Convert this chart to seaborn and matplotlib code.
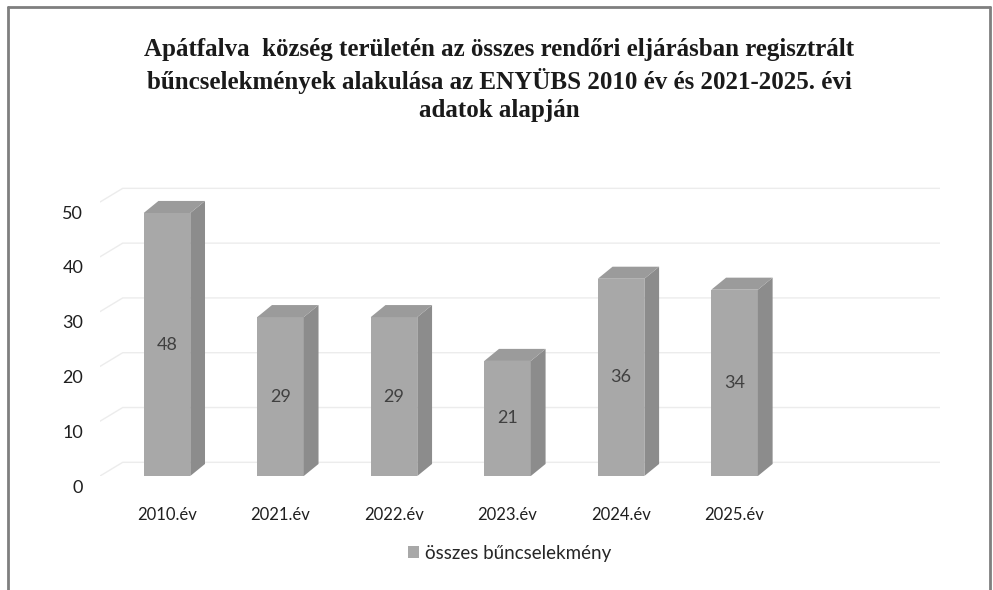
import matplotlib
matplotlib.use("Agg")
import matplotlib.pyplot as plt
import matplotlib.transforms as mtransforms
from matplotlib.patches import Polygon
from matplotlib.lines import Line2D
import pandas as pd
import seaborn as sns

# adatok
evek = ["2010.év", "2021.év", "2022.év", "2023.év", "2024.év", "2025.év"]
ertekek = [48, 29, 29, 21, 36, 34]
sorozat = "összes bűncselekmény"
cim = ("Apátfalva  község területén az összes rendőri eljárásban regisztrált\n"
       "bűncselekmények alakulása az ENYÜBS 2010 év és 2021-2025. évi\n"
       "adatok alapján")
y_ticks = [0, 10, 20, 30, 40, 50]

df = pd.DataFrame({"ev": evek, "ertek": ertekek, "sorozat": sorozat})

sns.set_style("white")
plt.rcParams["font.family"] = ["Lato", "DejaVu Sans"]

fig = plt.figure(figsize=(9.93, 5.9), dpi=100)
ax = fig.add_axes([0.1007, 0.1932, 0.846, 0.5108])

front = "#a8a8a8"
side = "#8c8c8c"
top = "#9b9b9b"

sns.barplot(data=df, x="ev", y="ertek", hue="sorozat", palette=[front],
            width=0.41, dodge=False, saturation=1, ax=ax, zorder=3,
            linewidth=0, edgecolor="none")

ax.set_xlim(-0.59, 6.81)
ax.set_ylim(0, 55)

# 3D hatás: oldal és tető
dx, dy = 0.13, 2.2
for p in ax.containers[0]:
    x0, w, h = p.get_x(), p.get_width(), p.get_height()
    ax.add_patch(Polygon([(x0 + w, 0), (x0 + w + dx, dy), (x0 + w + dx, h + dy), (x0 + w, h)],
                         closed=True, facecolor=side, edgecolor="none", zorder=3))
    ax.add_patch(Polygon([(x0, h), (x0 + dx, h + dy), (x0 + w + dx, h + dy), (x0 + w, h)],
                         closed=True, facecolor=top, edgecolor="none", zorder=3))

# rácsvonalak (hátsó fal + bal oldali fal)
xmin, xmax = ax.get_xlim()
for v in y_ticks:
    ax.plot([xmin, xmin + 0.2, xmax], [v, v + 2.5, v + 2.5], color="#ececec", lw=1, zorder=1)

ax.bar_label(ax.containers[0], label_type="center", fontsize=13, color="#404040")

ax.set_yticks(y_ticks)
ax.tick_params(axis="both", length=0, labelsize=12, labelcolor="#1f1f1f")
ax.tick_params(axis="y", labelsize=13, pad=12)
ax.tick_params(axis="x", pad=22)
off = mtransforms.ScaledTranslation(0, -0.1, fig.dpi_scale_trans)
for lbl in ax.get_yticklabels():
    lbl.set_transform(lbl.get_transform() + off)

ax.set_xlabel("")
ax.set_ylabel("")
sns.despine(ax=ax, left=True, bottom=True)

handles, labels = ax.get_legend_handles_labels()
ax.legend(handles=handles, labels=labels, loc="center", bbox_to_anchor=(0.513, 0.062),
          bbox_transform=fig.transFigure, frameon=False, fontsize=13.5,
          handlelength=0.6, handleheight=0.6, handletextpad=0.3)

fig.text(0.503, 0.864, cim, ha="center", va="center", fontsize=18, fontweight="bold",
         family="Liberation Serif", linespacing=1.3, color="#1a1a1a")

# keret
for xs, ys in [([0.008, 0.008], [0, 0.988]), ([0.008, 0.997], [0.988, 0.988]),
               ([0.997, 0.997], [0, 0.988])]:
    fig.add_artist(Line2D(xs, ys, transform=fig.transFigure, color="#7f7f7f", lw=2))

fig.savefig("out.png", dpi=100)
